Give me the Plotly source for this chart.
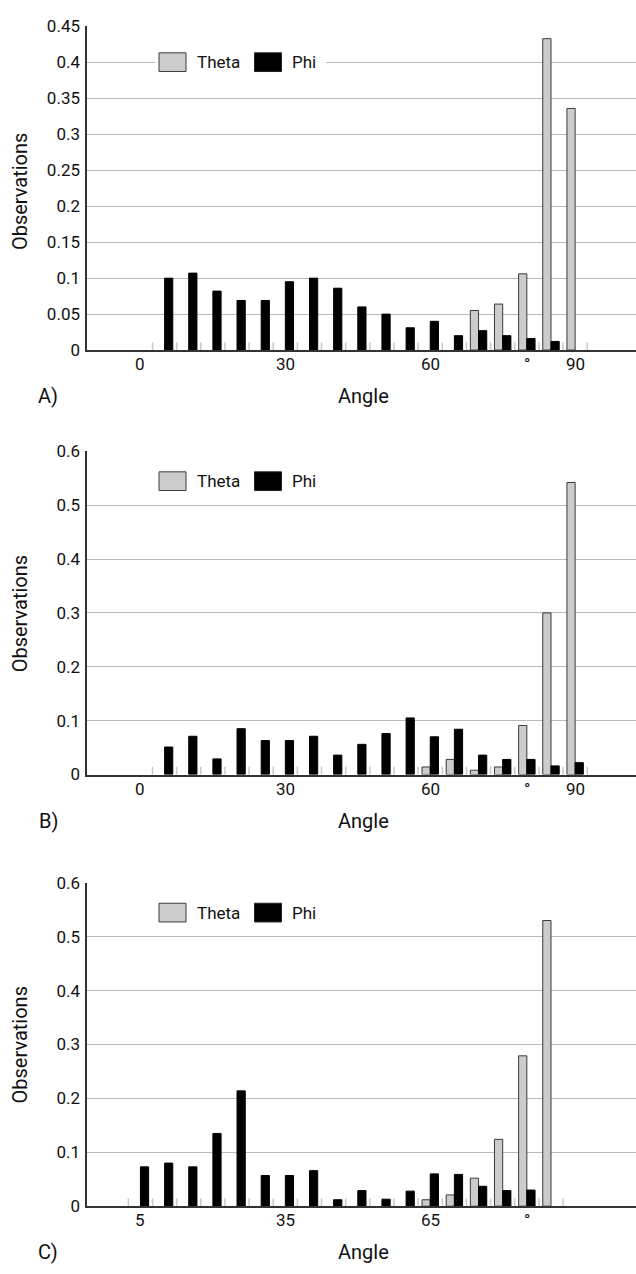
import numpy as np
import plotly.graph_objects as go

# ---- data -------------------------------------------------------------
angles = [5, 10, 15, 20, 25, 30, 35, 40, 45, 50, 55, 60, 65, 70, 75, 80, 85, 90]

theta_a = [0, 0, 0, 0, 0, 0, 0, 0, 0, 0, 0, 0, 0, 0.055, 0.064, 0.106, 0.433, 0.336]
phi_a = [0.100, 0.107, 0.082, 0.069, 0.069, 0.095, 0.100, 0.086, 0.060, 0.050,
         0.031, 0.040, 0.020, 0.027, 0.020, 0.016, 0.012, 0]

theta_b = [0, 0, 0, 0, 0, 0, 0, 0, 0, 0, 0, 0.014, 0.028, 0.008, 0.014, 0.091, 0.300, 0.542]
phi_b = [0.051, 0.071, 0.029, 0.085, 0.063, 0.063, 0.071, 0.036, 0.056, 0.076,
         0.105, 0.070, 0.084, 0.036, 0.028, 0.028, 0.016, 0.022]

theta_c = [0, 0, 0, 0, 0, 0, 0, 0, 0, 0, 0, 0, 0.012, 0.021, 0.052, 0.124, 0.279, 0.530]
phi_c = [0.073, 0.080, 0.073, 0.135, 0.214, 0.057, 0.057, 0.066, 0.012, 0.029,
         0.013, 0.028, 0.060, 0.059, 0.037, 0.029, 0.030, 0]

ticks_ab = [0, 30, 60, 80, 90]
labels_ab = ["0", "30", "60", "°", "90"]
ticks_c = [5, 35, 65, 85]
labels_c = ["5", "35", "65", "°"]

panel_letters = ["A)", "B)", "C)"]

# ---- page geometry ----------------------------------------------------
W, H = 636, 1274
FONT = "Roboto, 'Liberation Sans', Arial, sans-serif"
AXIS_COL = "#333333"
GRID_COL = "#b9b9b9"
THETA_COL = "#cccccc"
TXT = "#111111"

PLOT_L = 87.3
# (top pixel, bottom pixel) of each plot area
panel_px = [(16.7, 345.5), (448.3, 776.7), (886.7, 1215.3)]
legend_cy = [53.0, 478.7, 917.0]
ytitle_cy = [185.0, 614.0, 1052.0]


def py(p):
    """pixel row -> paper y"""
    return 1 - p / H


def px(p):
    """pixel column -> paper x"""
    return p / W


def visible(vals):
    """empty bins are left out instead of drawn as flat outlined bars"""
    return [v if v > 0 else None for v in vals]


panels = [
    dict(theta=theta_a, phi=phi_a, shift=0, ymax=0.45, dy=0.05,
         tv=ticks_ab, tt=labels_ab),
    dict(theta=theta_b, phi=phi_b, shift=0, ymax=0.6, dy=0.1,
         tv=ticks_ab, tt=labels_ab),
    dict(theta=theta_c, phi=phi_c, shift=5, ymax=0.6, dy=0.1,
         tv=ticks_c, tt=labels_c),
]

BAR_W = 1.7
X_LO, X_HI = -11.0, 102.6
bin_edges = np.arange(2.5, 95, 5)

fig = go.Figure()
shapes = []
annotations = []

for i, p in enumerate(panels):
    n = "" if i == 0 else str(i + 1)
    xa, ya = "x" + n, "y" + n
    fig.add_trace(go.Bar(
        x=angles, y=visible(p["theta"]), width=BAR_W, offset=-BAR_W, name="Theta",
        marker=dict(color=THETA_COL, line=dict(color="#3a3a3a", width=1)),
        xaxis=xa, yaxis=ya, showlegend=False))
    fig.add_trace(go.Bar(
        x=angles, y=visible(p["phi"]), width=BAR_W, offset=0, name="Phi",
        marker=dict(color="#000000", line=dict(color="#000000", width=1)),
        xaxis=xa, yaxis=ya, showlegend=False))

    top, bot = panel_px[i]
    ydom = [py(bot), py(top)]
    xkey = "xaxis" + n
    ykey = "yaxis" + n
    # panel C counts its bins from 5, so its axis window starts one bin later
    fig.layout[xkey] = dict(
        domain=[px(PLOT_L), 1], range=[X_LO + p["shift"], X_HI + p["shift"]],
        anchor=ya, showline=True, linecolor=AXIS_COL, linewidth=1.8,
        showgrid=False, zeroline=False, showticklabels=False, ticks="",
        fixedrange=True)
    yvals = list(np.round(np.arange(0, p["ymax"] + 1e-9, p["dy"]), 2))
    fig.layout[ykey] = dict(
        domain=ydom, range=[0, p["ymax"]], anchor=xa,
        showline=True, linecolor=AXIS_COL, linewidth=1.8,
        showgrid=True, gridcolor=GRID_COL, gridwidth=1, zeroline=False,
        tickmode="array", tickvals=yvals, ticktext=[f"{v:g}" for v in yvals],
        ticks="outside", ticklen=2, tickcolor="rgba(0,0,0,0)",
        tickfont=dict(family=FONT, size=17, color=TXT), fixedrange=True)

    # angle labels sit just under the axis line
    for v, t in zip(p["tv"], p["tt"]):
        annotations.append(dict(text=t, xref=xa, yref="paper", x=v,
                                y=py(bot + 14.5), xanchor="center",
                                yanchor="middle", showarrow=False,
                                font=dict(family=FONT, size=17, color=TXT)))

    # short light ticks between angle bins
    for e in bin_edges:
        shapes.append(dict(type="line", xref=xa, yref=ya + " domain",
                           x0=e, x1=e, y0=0, y1=8 / (bot - top),
                           line=dict(color="#c8c8c8", width=1.5), layer="below"))

    # legend drawn by hand: large swatches on a white strip
    cy = legend_cy[i]
    shapes.append(dict(type="rect", xref="paper", yref="paper",
                       x0=px(155), x1=px(326), y0=py(cy + 12), y1=py(cy - 12),
                       fillcolor="white", line=dict(width=0), layer="above"))
    shapes.append(dict(type="rect", xref="paper", yref="paper",
                       x0=px(159), x1=px(186), y0=py(cy + 9.5), y1=py(cy - 9.5),
                       fillcolor=THETA_COL, line=dict(color="#3a3a3a", width=1),
                       layer="above"))
    shapes.append(dict(type="rect", xref="paper", yref="paper",
                       x0=px(254.5), x1=px(281.5), y0=py(cy + 9.5), y1=py(cy - 9.5),
                       fillcolor="#000000", line=dict(color="#222", width=1),
                       layer="above"))
    annotations.append(dict(text="Theta", xref="paper", yref="paper",
                            x=px(195), y=py(cy), xanchor="left", yanchor="middle",
                            showarrow=False, font=dict(family=FONT, size=17, color=TXT)))
    annotations.append(dict(text="Phi", xref="paper", yref="paper",
                            x=px(290), y=py(cy), xanchor="left", yanchor="middle",
                            showarrow=False, font=dict(family=FONT, size=17, color=TXT)))

    # axis titles and panel letter
    annotations.append(dict(text="Observations", xref="paper", yref="paper",
                            x=px(20), y=py(ytitle_cy[i]), textangle=-90,
                            xanchor="center", yanchor="middle", showarrow=False,
                            font=dict(family=FONT, size=20, color=TXT)))
    annotations.append(dict(text="Angle", xref="paper", yref="paper",
                            x=px(363.5), y=py(bot + 47), xanchor="center",
                            yanchor="middle", showarrow=False,
                            font=dict(family=FONT, size=20, color=TXT)))
    annotations.append(dict(text=panel_letters[i], xref="paper", yref="paper",
                            x=px(48), y=py(bot + 47), xanchor="center",
                            yanchor="middle", showarrow=False,
                            font=dict(family=FONT, size=20, color=TXT)))

fig.update_layout(
    width=W, height=H, margin=dict(l=0, r=0, t=0, b=0),
    paper_bgcolor="white", plot_bgcolor="white",
    barmode="overlay", shapes=shapes, annotations=annotations,
    showlegend=False)

fig.write_html("out.html")
